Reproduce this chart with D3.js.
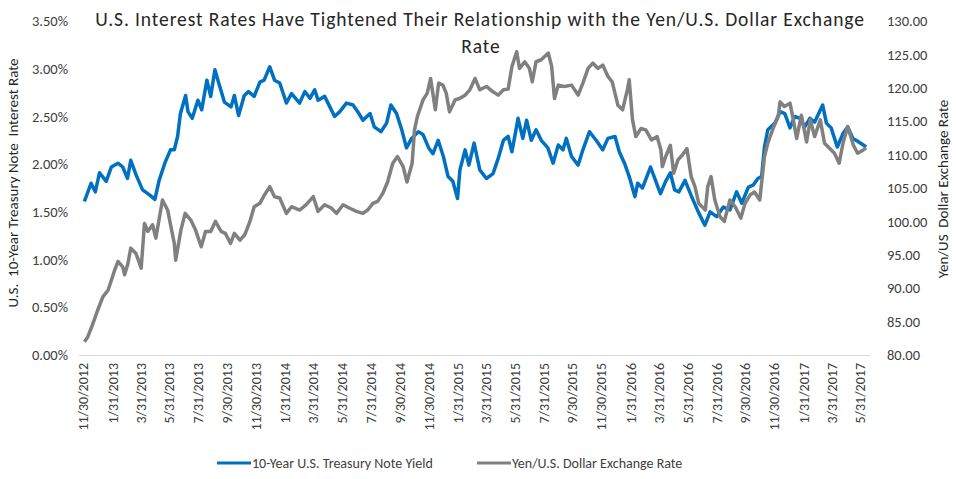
<!DOCTYPE html>
<html>
<head>
<meta charset="utf-8">
<script src="https://cdn.jsdelivr.net/npm/d3@7"></script>
<style>
  body { margin: 0; background: #fff; }
  svg text { font-family: Calibri, Carlito, Lato, sans-serif; }
</style>
</head>
<body>
<div id="chart"></div>
<script>
// Series (date, value)
const treasuryYield = [
  ["2012-12-03",1.61],["2012-12-17",1.80],["2012-12-26",1.71],["2013-01-04",1.91],["2013-01-18",1.82],
  ["2013-01-29",1.97],["2013-02-12",2.01],["2013-02-22",1.97],["2013-03-04",1.85],["2013-03-11",2.04],
  ["2013-03-22",1.89],["2013-04-05",1.73],["2013-04-19",1.68],["2013-05-01",1.63],["2013-05-10",1.83],
  ["2013-05-22",2.01],["2013-06-03",2.15],["2013-06-11",2.15],["2013-06-18",2.29],["2013-06-24",2.53],
  ["2013-07-05",2.72],["2013-07-10",2.55],["2013-07-19",2.48],["2013-07-31",2.67],["2013-08-08",2.57],
  ["2013-08-19",2.88],["2013-08-27",2.71],["2013-09-05",2.99],["2013-09-13",2.85],["2013-09-25",2.65],
  ["2013-10-09",2.60],["2013-10-16",2.72],["2013-10-25",2.51],["2013-11-06",2.72],["2013-11-15",2.76],
  ["2013-11-27",2.71],["2013-12-09",2.86],["2013-12-18",2.88],["2013-12-30",3.02],["2014-01-09",2.88],
  ["2014-01-20",2.85],["2014-02-03",2.64],["2014-02-14",2.74],["2014-03-03",2.64],["2014-03-14",2.76],
  ["2014-03-25",2.69],["2014-04-04",2.78],["2014-04-11",2.67],["2014-04-25",2.71],["2014-05-06",2.60],
  ["2014-05-16",2.50],["2014-05-27",2.55],["2014-06-10",2.64],["2014-06-24",2.62],["2014-07-04",2.55],
  ["2014-07-15",2.46],["2014-07-30",2.53],["2014-08-08",2.39],["2014-08-22",2.34],["2014-09-03",2.43],
  ["2014-09-12",2.62],["2014-09-24",2.53],["2014-10-05",2.36],["2014-10-15",2.17],["2014-10-26",2.27],
  ["2014-11-09",2.34],["2014-11-19",2.31],["2014-12-01",2.17],["2014-12-10",2.11],["2014-12-21",2.25],
  ["2015-01-01",2.08],["2015-01-11",1.87],["2015-01-21",1.82],["2015-01-31",1.64],["2015-02-05",1.94],
  ["2015-02-16",2.15],["2015-02-24",1.99],["2015-03-07",2.22],["2015-03-19",1.94],["2015-04-02",1.85],
  ["2015-04-16",1.90],["2015-04-27",2.06],["2015-05-08",2.25],["2015-05-18",2.29],["2015-05-26",2.13],
  ["2015-06-08",2.48],["2015-06-18",2.27],["2015-06-26",2.46],["2015-07-06",2.25],["2015-07-16",2.36],
  ["2015-07-27",2.25],["2015-08-10",2.17],["2015-08-21",2.01],["2015-09-01",2.20],["2015-09-11",2.15],
  ["2015-09-18",2.27],["2015-09-29",2.08],["2015-10-13",1.99],["2015-10-23",2.15],["2015-11-06",2.34],
  ["2015-11-20",2.25],["2015-12-04",2.15],["2015-12-15",2.27],["2015-12-30",2.29],["2016-01-08",2.13],
  ["2016-01-19",2.01],["2016-01-29",1.87],["2016-02-10",1.66],["2016-02-16",1.80],["2016-02-26",1.75],
  ["2016-03-14",1.97],["2016-03-23",1.85],["2016-04-04",1.69],["2016-04-15",1.82],["2016-04-25",1.91],
  ["2016-05-04",1.73],["2016-05-13",1.71],["2016-05-26",1.83],["2016-06-09",1.66],["2016-06-23",1.50],
  ["2016-07-07",1.36],["2016-07-18",1.50],["2016-08-01",1.45],["2016-08-15",1.55],["2016-08-29",1.52],
  ["2016-09-12",1.71],["2016-09-23",1.59],["2016-10-07",1.76],["2016-10-17",1.78],["2016-10-27",1.85],
  ["2016-11-04",1.87],["2016-11-10",2.18],["2016-11-17",2.36],["2016-12-02",2.43],["2016-12-13",2.55],
  ["2016-12-23",2.53],["2017-01-03",2.38],["2017-01-13",2.50],["2017-01-24",2.48],["2017-02-03",2.39],
  ["2017-02-14",2.48],["2017-02-24",2.44],["2017-03-13",2.62],["2017-03-21",2.43],["2017-03-31",2.38],
  ["2017-04-13",2.18],["2017-04-25",2.32],["2017-05-05",2.39],["2017-05-16",2.27],["2017-05-26",2.24],
  ["2017-06-07",2.20],["2017-06-13",2.18]
];

const yenDollar = [
  ["2012-12-03",82.0],["2012-12-10",82.7],["2012-12-20",84.5],["2012-12-31",86.7],["2013-01-11",88.7],
  ["2013-01-22",89.7],["2013-01-29",91.2],["2013-02-05",92.7],["2013-02-12",94.0],["2013-02-22",93.2],
  ["2013-02-26",92.0],["2013-03-05",93.7],["2013-03-11",96.0],["2013-03-22",95.2],["2013-04-02",93.0],
  ["2013-04-09",99.7],["2013-04-16",98.5],["2013-04-26",99.5],["2013-05-03",97.5],["2013-05-17",103.2],
  ["2013-05-28",101.7],["2013-06-04",99.2],["2013-06-11",96.7],["2013-06-14",94.2],["2013-06-25",98.7],
  ["2013-07-04",101.2],["2013-07-16",100.2],["2013-07-26",98.7],["2013-08-07",96.2],["2013-08-16",98.5],
  ["2013-08-27",98.5],["2013-09-06",100.0],["2013-09-18",98.5],["2013-09-27",98.2],["2013-10-08",96.7],
  ["2013-10-16",98.2],["2013-10-28",97.2],["2013-11-07",98.0],["2013-11-18",100.0],["2013-11-27",102.2],
  ["2013-12-09",102.7],["2013-12-19",104.0],["2013-12-30",105.2],["2014-01-09",103.7],["2014-01-20",103.5],
  ["2014-02-03",101.2],["2014-02-14",102.2],["2014-03-03",101.7],["2014-03-17",102.5],["2014-04-01",103.7],
  ["2014-04-11",101.5],["2014-04-25",102.5],["2014-05-09",102.0],["2014-05-20",101.2],["2014-06-03",102.5],
  ["2014-06-16",102.0],["2014-07-01",101.5],["2014-07-15",101.2],["2014-07-25",101.7],["2014-08-05",102.7],
  ["2014-08-15",103.0],["2014-08-26",104.2],["2014-09-05",105.9],["2014-09-16",108.7],["2014-09-26",109.7],
  ["2014-10-08",108.2],["2014-10-16",105.9],["2014-10-27",108.7],["2014-11-01",113.7],["2014-11-07",115.7],
  ["2014-11-19",118.2],["2014-11-28",119.2],["2014-12-05",121.4],["2014-12-15",116.7],["2014-12-22",120.7],
  ["2014-12-31",120.4],["2015-01-07",119.2],["2015-01-14",116.4],["2015-01-26",118.2],["2015-02-04",118.4],
  ["2015-02-16",118.9],["2015-02-26",119.7],["2015-03-09",121.4],["2015-03-19",119.7],["2015-04-02",120.2],
  ["2015-04-16",119.4],["2015-04-27",118.9],["2015-05-08",119.7],["2015-05-18",119.8],["2015-05-26",123.2],
  ["2015-06-05",125.4],["2015-06-11",122.9],["2015-06-22",123.9],["2015-07-02",122.9],["2015-07-08",120.9],
  ["2015-07-16",123.9],["2015-07-27",124.2],["2015-08-11",125.2],["2015-08-18",123.2],["2015-08-24",118.4],
  ["2015-09-01",120.4],["2015-09-14",120.2],["2015-09-29",120.4],["2015-10-13",118.9],["2015-10-23",120.7],
  ["2015-11-03",122.9],["2015-11-13",123.7],["2015-11-24",122.9],["2015-12-04",123.4],["2015-12-15",121.7],
  ["2015-12-24",120.9],["2016-01-05",117.4],["2016-01-15",116.7],["2016-01-25",119.7],["2016-01-29",121.2],
  ["2016-02-05",115.2],["2016-02-12",112.7],["2016-02-23",113.9],["2016-03-04",113.7],["2016-03-16",112.2],
  ["2016-03-28",112.7],["2016-04-05",110.7],["2016-04-08",108.2],["2016-04-15",109.7],["2016-04-25",111.4],
  ["2016-05-02",107.2],["2016-05-11",109.2],["2016-05-20",109.9],["2016-05-30",110.9],["2016-06-08",106.7],
  ["2016-06-16",105.2],["2016-06-24",102.7],["2016-07-08",101.7],["2016-07-13",105.2],["2016-07-20",106.7],
  ["2016-07-28",103.2],["2016-08-08",100.7],["2016-08-17",100.0],["2016-08-29",103.2],["2016-09-09",102.2],
  ["2016-09-21",100.5],["2016-09-30",102.7],["2016-10-11",104.0],["2016-10-20",104.4],["2016-10-31",103.2],
  ["2016-11-07",107.7],["2016-11-10",109.7],["2016-11-17",111.7],["2016-11-28",113.9],["2016-12-09",115.7],
  ["2016-12-13",117.9],["2016-12-22",117.2],["2017-01-03",117.7],["2017-01-10",115.2],["2017-01-17",112.4],
  ["2017-01-27",115.9],["2017-02-07",111.9],["2017-02-15",115.2],["2017-02-24",112.7],["2017-03-08",115.2],
  ["2017-03-17",111.7],["2017-03-28",110.9],["2017-04-07",110.2],["2017-04-17",108.7],["2017-04-25",111.7],
  ["2017-05-05",114.2],["2017-05-17",111.4],["2017-05-26",110.2],["2017-06-07",110.7],["2017-06-13",111.0]
];

const xTickLabels = [
  "11/30/2012","1/31/2013","3/31/2013","5/31/2013","7/31/2013","9/30/2013","11/30/2013",
  "1/31/2014","3/31/2014","5/31/2014","7/31/2014","9/30/2014","11/30/2014",
  "1/31/2015","3/31/2015","5/31/2015","7/31/2015","9/30/2015","11/30/2015",
  "1/31/2016","3/31/2016","5/31/2016","7/31/2016","9/30/2016","11/30/2016",
  "1/31/2017","3/31/2017","5/31/2017"
];
const leftTicks = [0, 0.5, 1, 1.5, 2, 2.5, 3, 3.5];
const rightTicks = [80, 85, 90, 95, 100, 105, 110, 115, 120, 125, 130];

const seriesNames = ["10-Year U.S. Treasury Note Yield", "Yen/U.S. Dollar Exchange Rate"];
const seriesColors = ["#0070c0", "#808080"];

const width = 956, height = 479;
const parseISO = d3.timeParse("%Y-%m-%d");
const parseLabel = d3.timeParse("%m/%d/%Y");

const svg = d3.select("#chart").append("svg")
    .attr("width", width)
    .attr("height", height);

const x = d3.scaleTime()
    .domain([parseLabel(xTickLabels[0]), parseLabel(xTickLabels[xTickLabels.length - 1])])
    .range([83, 860]);
const yLeft = d3.scaleLinear().domain([0, 3.5]).range([355, 21]);
const yRight = d3.scaleLinear().domain([80, 130]).range([355, 21]);

// Title
const title = svg.append("g")
    .attr("font-size", 19.5)
    .attr("letter-spacing", 0.9)
    .attr("fill", "#262626")
    .attr("text-anchor", "middle");
title.append("text").attr("x", 480).attr("y", 26)
    .text("U.S. Interest Rates Have Tightened Their Relationship with the Yen/U.S. Dollar Exchange");
title.append("text").attr("x", 481).attr("y", 53).text("Rate");

// Bottom axis line
svg.append("line")
    .attr("x1", 79).attr("x2", 870)
    .attr("y1", 355.5).attr("y2", 355.5)
    .attr("stroke", "#d9d9d9")
    .attr("stroke-width", 1);

// X axis
const xAxis = svg.append("g")
    .attr("transform", "translate(0,355)")
    .call(d3.axisBottom(x)
        .tickValues(xTickLabels.map(parseLabel))
        .tickFormat((d, i) => xTickLabels[i])
        .tickSize(0));
xAxis.select(".domain").remove();
xAxis.selectAll("text")
    .attr("transform", "rotate(-90)")
    .attr("x", -8)
    .attr("y", 0)
    .attr("dy", "0.35em")
    .style("text-anchor", "end")
    .attr("font-size", 14)
    .attr("fill", "#404040");

// Left axis
const leftAxis = svg.append("g")
    .attr("transform", "translate(80,0)")
    .call(d3.axisLeft(yLeft)
        .tickValues(leftTicks)
        .tickFormat(d => d3.format(".2f")(d) + "%")
        .tickSize(0).tickPadding(12));
leftAxis.select(".domain").remove();
leftAxis.selectAll("text").attr("font-size", 14.5).attr("fill", "#404040");

// Right axis
const rightAxis = svg.append("g")
    .attr("transform", "translate(875,0)")
    .call(d3.axisRight(yRight)
        .tickValues(rightTicks)
        .tickFormat(d3.format(".2f"))
        .tickSize(0).tickPadding(12));
rightAxis.select(".domain").remove();
rightAxis.selectAll("text").attr("font-size", 14.5).attr("fill", "#404040");

// Axis titles
svg.append("text")
    .attr("transform", "translate(18,183) rotate(-90)")
    .attr("text-anchor", "middle")
    .attr("font-size", 15)
    .attr("fill", "#262626")
    .style("white-space", "pre")
    .text("U.S.  10-Year Treasury Note  Interest Rate");

svg.append("text")
    .attr("transform", "translate(948,189) rotate(-90)")
    .attr("text-anchor", "middle")
    .attr("font-size", 15)
    .attr("fill", "#262626")
    .style("white-space", "pre")
    .text("Yen/US  Dollar Exchange Rate");

// Lines
const yieldLine = d3.line()
    .x(d => x(parseISO(d[0])))
    .y(d => yLeft(d[1]));
const fxLine = d3.line()
    .x(d => x(parseISO(d[0])))
    .y(d => yRight(d[1]));

svg.append("path")
    .datum(treasuryYield)
    .attr("d", yieldLine)
    .attr("fill", "none")
    .attr("stroke", seriesColors[0])
    .attr("stroke-width", 3.5)
    .attr("stroke-linejoin", "round");

svg.append("path")
    .datum(yenDollar)
    .attr("d", fxLine)
    .attr("fill", "none")
    .attr("stroke", seriesColors[1])
    .attr("stroke-width", 3.5)
    .attr("stroke-linejoin", "round");

// Legend
const legendX = [217, 477];
const legend = svg.append("g");
seriesNames.forEach((name, i) => {
    legend.append("line")
        .attr("x1", legendX[i]).attr("x2", legendX[i] + 34)
        .attr("y1", 463).attr("y2", 463)
        .attr("stroke", seriesColors[i])
        .attr("stroke-width", 3);
    legend.append("text")
        .attr("x", legendX[i] + 35)
        .attr("y", 468)
        .attr("font-size", 14)
        .attr("fill", "#404040")
        .text(name);
});
</script>
</body>
</html>
